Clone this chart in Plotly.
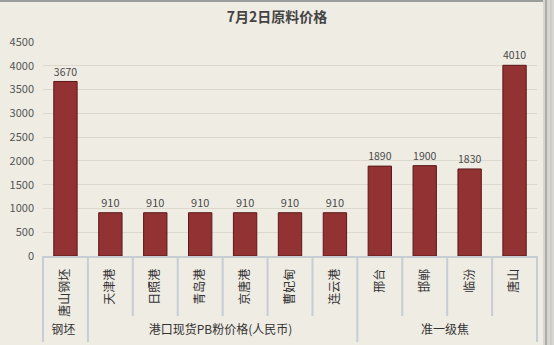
import plotly.graph_objects as go

categories = ["唐山钢坯", "天津港", "日照港", "青岛港", "京唐港", "曹妃甸", "连云港",
              "邢台", "邯郸", "临汾", "唐山"]
groups = ["钢坯"] + ["港口现货PB粉价格(人民币)"] * 6 + ["准一级焦"] * 4
values = [3670, 910, 910, 910, 910, 910, 910, 1890, 1900, 1830, 4010]
yticks = [0, 500, 1000, 1500, 2000, 2500, 3000, 3500, 4000, 4500]

font_family = "Noto Sans CJK SC, DejaVu Sans, sans-serif"

W, H = 554, 345
L, R, T, B = 43, 17, 42, 89
PW, PH = W - L - R, H - T - B


def px(x):
    return (x - L) / PW


def py(y):
    return (H - B - y) / PH


fig = go.Figure()
fig.add_trace(go.Bar(
    x=[groups, categories],
    y=values,
    marker=dict(color="#923232", line=dict(color="#5a1818", width=1)),
    text=[str(v) for v in values],
    textposition="outside",
    textfont=dict(size=11, color="#4a4a4a", family=font_family),
    cliponaxis=False,
))

shapes = []
n = len(categories)
group_bounds = {0, n}
for i in range(1, n):
    if groups[i] != groups[i - 1]:
        group_bounds.add(i)
for i in range(n + 1):
    y_end = py(342) if i in group_bounds else py(316)
    shapes.append(dict(type="line", xref="paper", yref="paper", x0=i / n, x1=i / n,
                       y0=0, y1=y_end, line=dict(color="#C6CDD4", width=2)))
# frame
shapes.append(dict(type="rect", xref="paper", yref="paper", x0=px(0), x1=px(W),
                   y0=py(2), y1=py(0), fillcolor="#9C9C9C", line=dict(width=0)))
shapes.append(dict(type="rect", xref="paper", yref="paper", x0=px(543), x1=px(W),
                   y0=py(H), y1=py(0), fillcolor="#D8D6D0", line=dict(width=0)))
shapes.append(dict(type="line", xref="paper", yref="paper", x0=px(546), x1=px(546),
                   y0=py(H), y1=py(0), line=dict(color="#ABABAB", width=2)))
shapes.append(dict(type="line", xref="paper", yref="paper", x0=px(551), x1=px(551),
                   y0=py(H), y1=py(0), line=dict(color="#C2C2C2", width=1)))

fig.update_layout(
    width=W, height=H,
    margin=dict(l=L, r=R, t=T, b=B),
    paper_bgcolor="#EFECE3",
    plot_bgcolor="#EFECE3",
    bargap=0.48,
    showlegend=False,
    shapes=shapes,
    title=dict(text="<b>7月2日原料价格</b>", x=0.5, xanchor="center", y=0.95, yanchor="middle",
               font=dict(size=14, color="#444444", family=font_family)),
    font=dict(family=font_family, color="#444444"),
)
fig.update_yaxes(range=[0, 4500], tickvals=yticks, showgrid=True, gridcolor="#DCD8CE",
                 gridwidth=1, zeroline=False, showline=False, automargin=False,
                 tickfont=dict(size=11, color="#555555"), ticks="", ticklabelstandoff=8)
fig.update_xaxes(type="multicategory", tickangle=-90, showline=True, linecolor="#C6CDD4",
                 linewidth=2, showdividers=False, automargin=False,
                 tickfont=dict(size=12, color="#333333"), ticks="", ticklabelstandoff=6)

fig.write_html("out.html")
